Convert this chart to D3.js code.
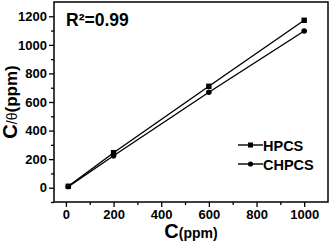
<!DOCTYPE html>
<html>
<head>
<meta charset="utf-8">
<script src="https://cdn.jsdelivr.net/npm/d3@7"></script>
<style>
  body { margin: 0; background: #fff; }
  text { font-family: "Liberation Sans", Arial, sans-serif; font-weight: bold; }
</style>
</head>
<body>
<div id="vis"></div>
<script>
const FRAME_WIDTH = 331;
const FRAME_HEIGHT = 245;
const MARGINS = {left: 54, right: 3, top: 2, bottom: 43};

const VIS_WIDTH = FRAME_WIDTH - MARGINS.left - MARGINS.right;
const VIS_HEIGHT = FRAME_HEIGHT - MARGINS.top - MARGINS.bottom;

// data
const concentrations = [10, 200, 600, 1000];
const hpcsValues = [10, 245, 710, 1172];
const chpcsValues = [8, 224, 668, 1097];
const seriesNames = ["HPCS", "CHPCS"];
const xTicks = [0, 200, 400, 600, 800, 1000];
const yTicks = [0, 200, 400, 600, 800, 1000, 1200];

const FRAME = d3.select("#vis")
    .append("svg")
    .attr("width", FRAME_WIDTH)
    .attr("height", FRAME_HEIGHT);

const X_SCALE = d3.scaleLinear().domain([-50, 1100]).range([0, VIS_WIDTH]);
const Y_SCALE = d3.scaleLinear().domain([-100, 1300]).range([VIS_HEIGHT, 0]);

const g = FRAME.append("g")
    .attr("transform", "translate(" + MARGINS.left + "," + MARGINS.top + ")");

// minor ticks
g.append("g")
    .attr("transform", "translate(0," + VIS_HEIGHT + ")")
    .call(d3.axisBottom(X_SCALE).tickValues(d3.range(100, 1100, 200)).tickSize(3).tickFormat(""))
    .call(a => a.select(".domain").remove())
    .selectAll("line").attr("stroke-width", 1.3);

g.append("g")
    .call(d3.axisLeft(Y_SCALE).tickValues(d3.range(-100, 1300, 200)).tickSize(3).tickFormat(""))
    .call(a => a.select(".domain").remove())
    .selectAll("line").attr("stroke-width", 1.3);

// major ticks
const xAxis = g.append("g")
    .attr("transform", "translate(0," + VIS_HEIGHT + ")")
    .call(d3.axisBottom(X_SCALE).tickValues(xTicks).tickSize(5).tickPadding(3).tickFormat(d3.format("d")));
xAxis.select(".domain").remove();
xAxis.selectAll("line").attr("stroke-width", 1.3);
xAxis.selectAll("text").attr("font-size", 13).attr("fill", "#000")
    .style("font-family", "Liberation Sans, Arial, sans-serif").style("font-weight", "bold");

const yAxis = g.append("g")
    .call(d3.axisLeft(Y_SCALE).tickValues(yTicks).tickSize(5).tickPadding(2).tickFormat(d3.format("d")));
yAxis.select(".domain").remove();
yAxis.selectAll("line").attr("stroke-width", 1.3);
yAxis.selectAll("text").attr("font-size", 13).attr("fill", "#000")
    .style("font-family", "Liberation Sans, Arial, sans-serif").style("font-weight", "bold");

// frame
g.append("rect")
    .attr("x", 0).attr("y", 0)
    .attr("width", VIS_WIDTH).attr("height", VIS_HEIGHT)
    .attr("fill", "none").attr("stroke", "#000").attr("stroke-width", 1.5);

const line = d3.line()
    .x((d, i) => X_SCALE(concentrations[i]))
    .y(d => Y_SCALE(d));

g.append("path").datum(hpcsValues)
    .attr("d", line).attr("fill", "none").attr("stroke", "#000").attr("stroke-width", 1.4);
g.append("path").datum(chpcsValues)
    .attr("d", line).attr("fill", "none").attr("stroke", "#000").attr("stroke-width", 1.4);

g.selectAll(".sq").data(hpcsValues).enter().append("rect")
    .attr("x", (d, i) => X_SCALE(concentrations[i]) - 2.7)
    .attr("y", d => Y_SCALE(d) - 2.7)
    .attr("width", 5.4).attr("height", 5.4).attr("fill", "#000");

g.selectAll(".ci").data(chpcsValues).enter().append("circle")
    .attr("cx", (d, i) => X_SCALE(concentrations[i]))
    .attr("cy", d => Y_SCALE(d))
    .attr("r", 2.8).attr("fill", "#000");

// legend
const legend = FRAME.append("g");
seriesNames.forEach((name, i) => {
    const y = 145 + i * 19;
    legend.append("line").attr("x1", 238).attr("x2", 263).attr("y1", y).attr("y2", y)
        .attr("stroke", "#000").attr("stroke-width", 1.4);
    if (i === 0) {
        legend.append("rect").attr("x", 250.5 - 2.5).attr("y", y - 2.5)
            .attr("width", 5).attr("height", 5).attr("fill", "#000");
    } else {
        legend.append("circle").attr("cx", 250.5).attr("cy", y).attr("r", 2.6).attr("fill", "#000");
    }
    legend.append("text").attr("x", 263).attr("y", y + 5.5)
        .attr("font-size", 14.5).text(name);
});

// R squared
FRAME.append("text").attr("x", 66).attr("y", 26)
    .attr("font-size", 17.5).text("R²=0.99");

// axis titles
const xt = FRAME.append("text")
    .attr("x", MARGINS.left + VIS_WIDTH / 2).attr("y", 238)
    .attr("text-anchor", "middle");
xt.append("tspan").attr("font-size", 20).text("C");
xt.append("tspan").attr("font-size", 14).text("(ppm)");

const yt = FRAME.append("text")
    .attr("transform", "translate(17," + (MARGINS.top + VIS_HEIGHT / 2) + ") rotate(-90)")
    .attr("text-anchor", "middle");
yt.append("tspan").attr("font-size", 20).text("C");
yt.append("tspan").attr("font-size", 14).style("font-weight", "normal").text("/θ");
yt.append("tspan").attr("font-size", 17).text("(ppm)");
</script>
</body>
</html>
